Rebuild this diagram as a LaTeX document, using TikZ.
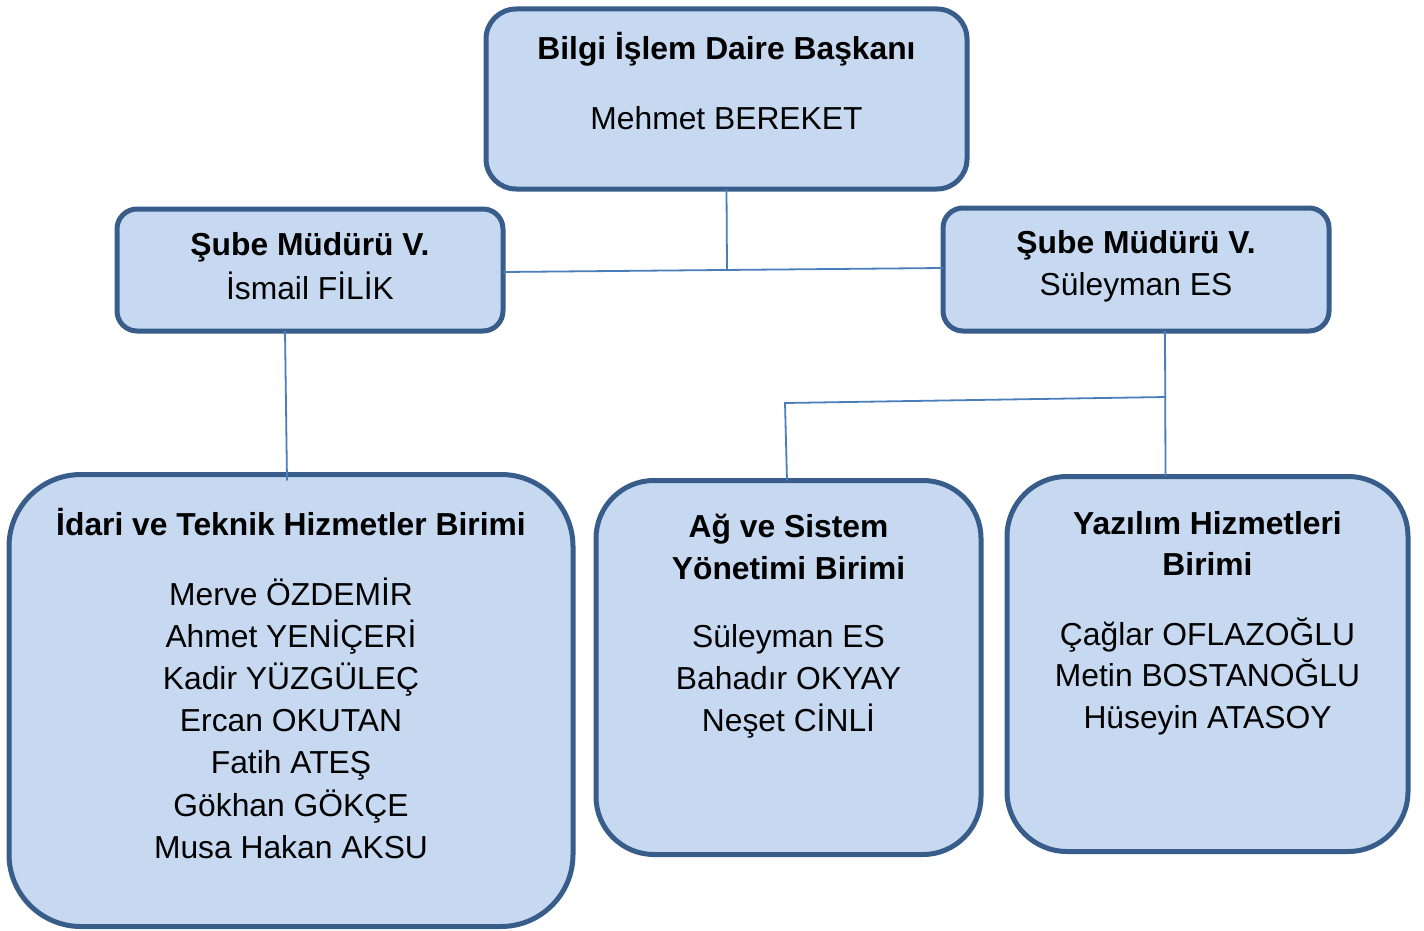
\documentclass[tikz,border=0pt]{standalone}
\usepackage{fontspec}
\setmainfont{Liberation Sans}
\definecolor{cC6D9F1}{RGB}{198,217,241}
\definecolor{c385D8A}{RGB}{56,93,138}
\definecolor{c4A7EBB}{RGB}{74,126,187}
\usetikzlibrary{calc}

\begin{document}
\begin{tikzpicture}[y=1pt,x=1pt,yscale=-1, inner sep=0pt, outer sep=0pt,
    unit/.style={draw=c385D8A,fill=cC6D9F1,line width=5pt},
    txt/.style={anchor=base,font=\fontsize{31.8}{42}\selectfont},
    hdr/.style={anchor=base,font=\fontsize{31.8}{42}\selectfont\bfseries},
    link/.style={draw=c4A7EBB,line width=1.8pt}]
      \useasboundingbox (0,0) rectangle (1424,931);
      % boxes
      \node[unit,minimum width=481,minimum height=180,rounded corners=30] (daire) at (726.5,99) {};
      \node[unit,minimum width=386,minimum height=122,rounded corners=20] (lsube) at (310,270) {};
      \node[unit,minimum width=386,minimum height=123,rounded corners=20] (rsube) at (1136,269.5) {};
      \node[unit,minimum width=564,minimum height=452,rounded corners=72] (idari) at (291,700.5) {};
      \node[unit,minimum width=385,minimum height=374,rounded corners=58] (ag) at (788.5,667.5) {};
      \node[unit,minimum width=401,minimum height=375,rounded corners=60] (yazilim) at (1207.5,664) {};
      % texts
      \node[hdr] (daire-t) at (726.5,60) {Bilgi İşlem Daire Başkanı};
      \node[txt] (daire-n) at (726.5,130) {Mehmet BEREKET};
      \node[hdr] (lsube-t) at (310,255) {Şube Müdürü V.};
      \node[txt] (lsube-n) at (310,299) {İsmail FİLİK};
      \node[hdr] (rsube-t) at (1136,253) {Şube Müdürü V.};
      \node[txt] (rsube-n) at (1136,295) {Süleyman ES};
      \node[hdr] (idari-t) at (291,535) {İdari ve Teknik Hizmetler Birimi};
      \foreach \nm [count=\i] in {Merve ÖZDEMİR,Ahmet YENİÇERİ,Kadir YÜZGÜLEÇ,Ercan OKUTAN,Fatih ATEŞ,Gökhan GÖKÇE,Musa Hakan AKSU}
        \node[txt] (idari-\i) at (291,{605+42.2*(\i-1)}) {\nm};
      \node[hdr] (ag-t1) at (788.5,537) {Ağ ve Sistem};
      \node[hdr] (ag-t2) at (788.5,579) {Yönetimi Birimi};
      \foreach \nm [count=\i] in {Süleyman ES,Bahadır OKYAY,Neşet CİNLİ}
        \node[txt] (ag-\i) at (788.5,{647+42*(\i-1)}) {\nm};
      \node[hdr] (yazilim-t1) at (1207.5,534) {Yazılım Hizmetleri};
      \node[hdr] (yazilim-t2) at (1207.5,575) {Birimi};
      \foreach \nm [count=\i] in {Çağlar OFLAZOĞLU,Metin BOSTANOĞLU,Hüseyin ATASOY}
        \node[txt] (yazilim-\i) at (1207.5,{645+41.5*(\i-1)}) {\nm};
      % connectors
      \coordinate (j1) at (727,270);
      \coordinate (j2) at (1166,397);
      \coordinate (j3) at (785,403);
      \draw[link] (daire.south) -- (j1);
      \draw[link] ($(lsube.east)+(0,2)$) -- ($(rsube.west)+(0,-1.5)$);
      \draw[link] ($(lsube.south)+(-25,0)$) -- ($(idari.north)+(-4,6)$);
      \draw[link] ($(rsube.south)+(29,0)$) -- ($(yazilim.north)+(-42,0)$);
      \draw[link] (j2) -- (j3) -- ($(ag.north)+(-1.5,0)$);
    \end{tikzpicture}
\end{document}
